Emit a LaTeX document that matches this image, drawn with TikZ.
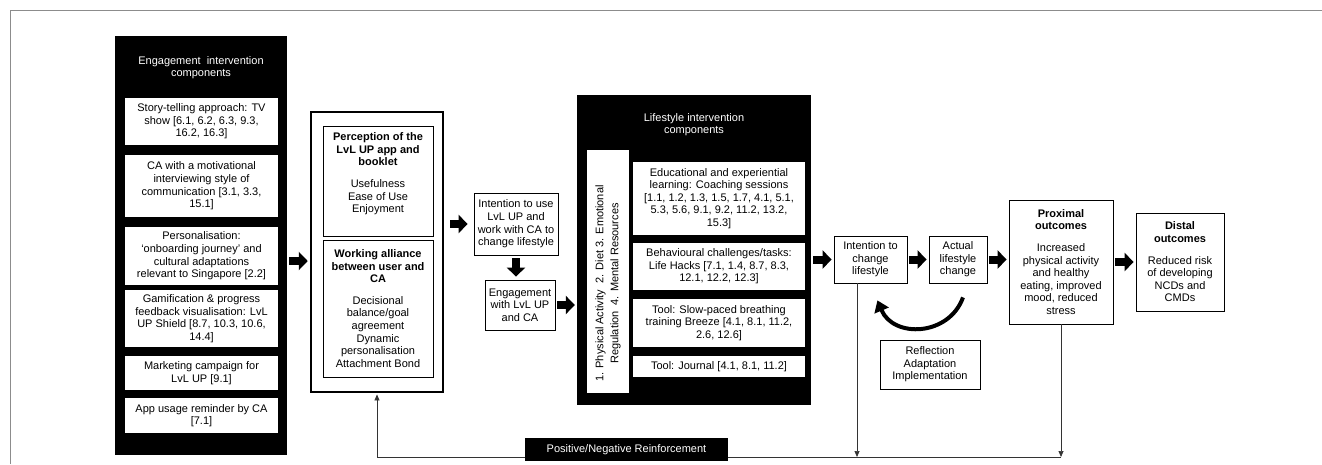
\documentclass[tikz,border=0pt]{standalone}
\usepackage{fontspec}
\setmainfont{Liberation Sans}
\usetikzlibrary{arrows.meta,positioning}

\begin{document}
\begin{tikzpicture}[x=1pt, y=-1pt, font=\fontsize{11}{12.6}\selectfont,
  panel/.style={fill=black, inner sep=0pt},
  title/.style={text=white, align=center, inner sep=0pt},
  wbox/.style={fill=white, align=center, inner sep=0pt, minimum width=153pt},
  lbox/.style={fill=white, align=center, inner sep=0pt, minimum width=172pt},
  box/.style={draw=black, line width=.8pt, fill=white, align=center, inner sep=0pt},
  fat/.style={line width=8pt, -{Triangle[length=9pt,width=18pt]}, shorten <=2pt, shorten >=2pt},
  fb/.style={line width=.7pt, black!80, -{Triangle[length=6pt,width=5pt]}}]
\useasboundingbox (0,0) rectangle (1322,464);
% Frame
\draw[black!45, line width=.8pt] (10,464) -- (10,10) -- (1322,10);

% Engagement intervention components
\node[panel, minimum width=172pt, minimum height=419pt] (Eng) at (201,245.5) {};
\node[title] (EngT) at (201,67.5) {Engagement\ \ intervention\\components};
\node[wbox, minimum height=47pt] (Eng1) at (201.5,121.5) {Story-telling approach: TV\\show [6.1, 6.2, 6.3, 9.3,\\16.2, 16.3]};
\node[wbox, minimum height=62pt] (Eng2) at (201.5,186) {CA with a motivational\\interviewing style of\\communication [3.1, 3.3,\\15.1]};
\node[wbox, minimum height=58pt] (Eng3) at (201.5,256) {Personalisation:\\‘onboarding journey’ and\\cultural adaptations\\relevant to Singapore [2.2]};
\node[wbox, minimum height=57pt] (Eng4) at (201.5,318.5) {Gamification \& progress\\feedback visualisation: LvL\\UP Shield [8.7, 10.3, 10.6,\\14.4]};
\node[wbox, minimum height=34pt] (Eng5) at (201.5,373) {Marketing campaign for\\LvL UP [9.1]};
\node[wbox, minimum height=35pt] (Eng6) at (201.5,415.5) {App usage reminder by CA\\{[7.1]}};

% Perception and working alliance
\node[box, line width=2.5pt, minimum width=132pt, minimum height=280pt] (Outer) at (377,252) {};
\node[box, minimum width=110pt, minimum height=110pt] (Perc) at (378,181) {};
\node[align=center, inner sep=0pt, below=7pt of Perc.north] (PercT) {\textbf{Perception of the}\\\textbf{LvL UP app and}\\\textbf{booklet}\\[9pt]Usefulness\\Ease of Use\\Enjoyment};
\node[box, minimum width=110pt, minimum height=137pt] (Work) at (378,308.5) {\textbf{Working alliance}\\\textbf{between user and}\\\textbf{CA}\\[9pt]Decisional\\balance/goal\\agreement\\Dynamic\\personalisation\\Attachment Bond};

% Intention and engagement
\node[box, minimum width=84pt, minimum height=62pt] (UseInt) at (516,224) {Intention to use\\LvL UP and\\work with CA to\\change lifestyle};
\node[box, minimum width=70pt, minimum height=50pt] (EngLvL) at (520,305) {Engagement\\with LvL UP\\and CA};

% Lifestyle intervention components
\node[panel, minimum width=234pt, minimum height=310pt] (Life) at (694,250) {};
\node[title] (LifeT) at (694,124.5) {Lifestyle intervention\\components};
\node[fill=white, inner sep=0pt, minimum width=42pt, minimum height=243pt] (Strip) at (608,271.5) {};
\node[rotate=90, align=center, inner sep=0pt] (StripT) at ([yshift=-12pt]Strip.center) {1. Physical Activity\ \ 2. Diet 3. Emotional\\[2.5pt]Regulation\ \ 4. Mental Resources};
\node[lbox, minimum height=73pt] (Life1) at (719,198.5) {Educational and experiential\\learning: Coaching sessions\\{[1.1, 1.2, 1.3, 1.5, 1.7, 4.1, 5.1,}\\5.3, 5.6, 9.1, 9.2, 11.2, 13.2,\\15.3]};
\node[lbox, minimum height=47pt] (Life2) at (719,266.5) {Behavioural challenges/tasks:\\Life Hacks [7.1, 1.4, 8.7, 8.3,\\12.1, 12.2, 12.3]};
\node[lbox, minimum height=48pt] (Life3) at (719,323) {Tool: Slow-paced breathing\\training Breeze [4.1, 8.1, 11.2,\\2.6, 12.6]};
\node[lbox, minimum height=21pt] (Life4) at (719,366.5) {Tool: Journal [4.1, 8.1, 11.2]};

% Lifestyle change and outcomes
\node[box, minimum width=73pt, minimum height=47pt] (ChInt) at (870.5,259.5) {Intention to\\change\\lifestyle};
\node[box, minimum width=58pt, minimum height=47pt] (Act) at (958,259.5) {Actual\\lifestyle\\change};
\node[box, minimum width=100pt, minimum height=49pt] (Refl) at (930,364.5) {Reflection\\Adaptation\\Implementation};
\node[box, minimum width=104pt, minimum height=124pt] (Prox) at (1061,262) {\textbf{Proximal}\\\textbf{outcomes}\\[9pt]Increased\\physical activity\\and healthy\\eating, improved\\mood, reduced\\stress};
\node[box, minimum width=88pt, minimum height=98pt] (Dist) at (1180,262) {\textbf{Distal}\\\textbf{outcomes}\\[9pt]Reduced risk\\of developing\\NCDs and\\CMDs};

% Block arrows
\draw[fat] (Eng.east |- 0,261) -- (Outer.west |- 0,261);
\draw[fat, shorten <=6pt, shorten >=6pt] (Outer.east |- UseInt.west) -- (UseInt.west);
\draw[fat, shorten <=3pt, shorten >=3pt] (UseInt.south) -- (UseInt.south |- EngLvL.north);
\draw[fat] (EngLvL.east) -- (Life.west |- EngLvL.east);
\draw[fat] (Life.east |- ChInt.west) -- (ChInt.west);
\draw[fat] (ChInt) -- (Act);
\draw[fat] (Act.east) -- (Prox.west |- Act.east);
\draw[fat] (Prox) -- (Dist);
% Loop
\draw[line width=4pt, -{Triangle[length=11pt,width=15pt]}] ([shift={(5,14)}]Act.south) .. controls +(-14,39) and +(16,38) .. ([shift={(-30,17)}]ChInt.south east);

% Feedback
\coordinate (fbR) at (Prox.south |- 0,457);
\coordinate (fbL) at (Outer.south |- 0,457);
\draw[fb] (Prox.south) -- (fbR);
\draw[fb] ([xshift=-13.5pt]ChInt.south) -- ([xshift=-13.5pt]ChInt.south |- fbR);
\draw[fb, shorten >=1.2pt] (fbR) -- (fbL) -- (Outer.south);
\node[panel, text=white, minimum width=203pt, minimum height=23pt] (Reinf) at (626.5,449.5) {Positive/Negative Reinforcement};
\end{tikzpicture}
\end{document}
